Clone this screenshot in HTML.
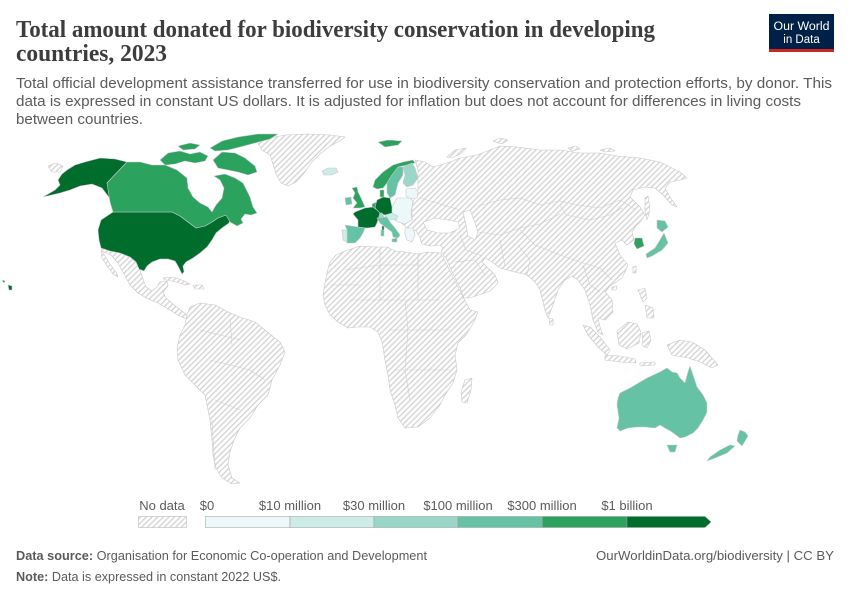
<!DOCTYPE html>
<html><head><meta charset="utf-8"><style>
html,body{margin:0;padding:0;background:#fff;}
svg{display:block;}
</style></head><body>
<svg width="850" height="600" viewBox="0 0 850 600" xmlns="http://www.w3.org/2000/svg">
<defs>
<pattern id="h" width="4" height="4" patternUnits="userSpaceOnUse" patternTransform="rotate(45)">
<rect width="4" height="4" fill="#fff"/>
<line x1="1" y1="0" x2="1" y2="4" stroke="#d2d2d2" stroke-width="1.3"/>
</pattern>
</defs>
<rect width="850" height="600" fill="#fff"/>

<!-- Title -->
<g font-family="'Liberation Serif', serif" fill="#3d3d3d" font-size="24.5" font-weight="bold">
<text x="16" y="37" textLength="639" lengthAdjust="spacingAndGlyphs">Total amount donated for biodiversity conservation in developing</text>
<text x="16" y="61" textLength="151" lengthAdjust="spacingAndGlyphs">countries, 2023</text>
</g>
<g font-family="'Liberation Sans', sans-serif" fill="#5b5b5b" font-size="14.5">
<text x="16" y="88" textLength="816" lengthAdjust="spacingAndGlyphs">Total official development assistance transferred for use in biodiversity conservation and protection efforts, by donor. This</text>
<text x="16" y="106" textLength="785" lengthAdjust="spacingAndGlyphs">data is expressed in constant US dollars. It is adjusted for inflation but does not account for differences in living costs</text>
<text x="16" y="124" textLength="127" lengthAdjust="spacingAndGlyphs">between countries.</text>
</g>

<!-- Logo -->
<rect x="769" y="14" width="65" height="38" fill="#002147"/>
<rect x="769" y="49" width="65" height="3" fill="#ce261e"/>
<g font-family="'Liberation Sans', sans-serif" fill="#fff" font-size="11.5" text-anchor="middle">
<text x="801.5" y="30" textLength="56" lengthAdjust="spacingAndGlyphs">Our World</text>
<text x="801.5" y="43">in Data</text>
</g>

<!-- MAP -->
<g stroke="#c8c8c8" stroke-width="0.6" stroke-linejoin="round">
<!-- hatched land -->
<g fill="url(#h)">
<path d="M48,166 L56,163 L63,166 L60,172 L52,172 Z"/>
<path d="M257,142 L270,138 L285,135 L307,134 L330,135 L345,137 L340,141 L330,146 L320,154 L312,162 L305,172 L296,182 L288,186 L281,183 L276,174 L273,164 L270,155 L262,150 Z"/>
<path d="M101,248 L120,253 L130,257 L136,262 L140,270 L143,279 L146,287 L152,291 L157,287 L160,282 L167,281 L168,286 L163,292 L166,298 L174,305 L182,311 L188,316 L186,319 L178,315 L168,309 L158,303 L148,299 L138,293 L130,285 L124,274 L118,263 L111,255 L104,252 Z"/>
<path d="M101,250 L105,256 L110,264 L116,272 L118,277 L113,274 L107,266 L102,258 Z"/>
<path d="M163,278 L172,277 L182,280 L190,284 L186,285 L176,282 L166,280 Z"/>
<path d="M193,285 L202,285 L204,289 L195,289 Z"/>
<path d="M187,315 L190,307 L200,303 L215,305 L228,312 L240,317 L255,322 L265,330 L280,342 L285,352 L280,365 L272,380 L268,395 L258,405 L250,418 L240,428 L234,440 L230,452 L228,465 L232,478 L240,483 L232,484 L222,478 L216,468 L213,455 L212,440 L210,420 L207,405 L205,395 L195,385 L185,375 L178,360 L177,348 L180,335 L185,325 Z"/>
<path d="M327,273 L330,262 L336,255 L345,251 L360,246 L375,247 L387,247 L395,251 L405,252 L418,254 L428,252 L440,253 L443,257 L450,271 L457,285 L463,297 L470,310 L478,312 L474,322 L466,335 L458,343 L455,355 L457,370 L453,383 L445,395 L440,405 L430,418 L418,427 L405,428 L398,418 L395,405 L390,390 L388,375 L385,360 L382,342 L378,332 L370,327 L358,327 L348,328 L338,322 L330,315 L325,305 L323,295 L325,283 Z"/>
<path d="M465,380 L472,378 L471,390 L467,403 L462,402 L461,392 Z"/>
<path d="M415,160 L425,162 L433,167 L447,163 L460,158 L477,155 L490,150 L500,146 L517,147 L540,150 L560,150 L580,153 L600,153 L617,156 L640,158 L660,162 L680,172 L687,178 L680,180 L670,182 L665,188 L670,197 L677,207 L672,205 L663,195 L655,188 L645,187 L633,190 L630,197 L640,207 L645,215 L640,222 L636,226 L632,232 L634,240 L627,245 L622,240 L615,243 L620,255 L628,265 L622,278 L610,286 L605,292 L612,300 L613,312 L605,320 L598,318 L600,327 L603,335 L598,332 L593,320 L590,305 L585,290 L578,280 L572,276 L565,280 L558,290 L553,305 L548,318 L545,310 L540,290 L535,282 L527,275 L515,272 L500,268 L492,262 L485,258 L482,262 L488,268 L495,275 L498,283 L490,291 L470,298 L464,298 L460,288 L452,272 L446,258 L441,252 L443,248 L440,245 L430,246 L422,244 L420,238 L416,231 L410,229 L405,226 L400,222 L412,220 L412,205 L418,190 L418,170 Z"/>
<path d="M447,157 L455,150 L466,148 L462,153 L452,158 Z"/>
<path d="M493,141 L500,138 L508,140 L502,144 Z"/>
<path d="M568,148 L576,146 L580,149 L572,151 Z"/>
<path d="M600,150 L610,148 L615,151 L605,152 Z"/>
<path d="M645,198 L648,196 L650,210 L647,220 L645,212 Z"/>
<path d="M633,267 L636,266 L636,273 L633,273 Z"/>
<path d="M612,287 L617,286 L616,290 L612,290 Z"/>
<path d="M549,318 L553,319 L553,325 L550,325 Z"/>
<path d="M583,325 L590,327 L600,337 L610,350 L607,355 L598,347 L588,335 Z"/>
<path d="M605,355 L620,356 L635,359 L636,363 L620,362 L605,360 Z"/>
<path d="M617,331 L628,322 L637,324 L641,332 L639,343 L627,349 L619,345 Z"/>
<path d="M642,333 L649,331 L651,340 L647,348 L643,346 Z"/>
<path d="M638,290 L645,288 L647,298 L643,302 Z"/>
<path d="M645,305 L653,308 L654,318 L647,318 Z"/>
<path d="M667,345 L680,340 L692,342 L705,350 L718,365 L712,368 L700,362 L688,358 L672,355 Z"/>
<path d="M640,363 L655,362 L655,365 L640,366 Z"/>
</g>

<!-- internal borders in no-data regions -->
<g fill="none" stroke="#cfcfcf" stroke-width="0.6">
<path d="M420,198 L440,204 L460,210"/>
<path d="M478,206 L500,200 L520,198 L540,205 L560,201 L578,205 L600,208 L620,200 L636,210"/>
<path d="M560,205 L566,215 L590,220 L610,215 L622,208"/>
<path d="M478,232 L500,235 L520,228 L540,224 L560,214"/>
<path d="M520,230 L535,245 L560,255 L580,262 L600,268 L612,280"/>
<path d="M518,245 L530,260 L527,275"/>
<path d="M500,240 L505,265"/>
<path d="M460,235 L466,250 L482,256"/>
<path d="M455,262 L475,260 L485,275"/>
<path d="M583,265 L590,285 L600,292"/>
<path d="M345,270 L380,265 L420,265"/>
<path d="M380,250 L380,300"/>
<path d="M418,254 L418,300"/>
<path d="M350,300 L440,300"/>
<path d="M390,330 L450,330"/>
<path d="M395,370 L450,370"/>
<path d="M330,285 L360,285"/>
<path d="M405,300 L408,330 L405,370 L410,400"/>
<path d="M200,330 L240,340"/>
<path d="M210,360 L250,370 L265,380"/>
<path d="M215,400 L240,410"/>
<path d="M212,420 L215,470"/>
<path d="M230,318 L232,345"/>
</g>

<!-- North America colored -->
<path fill="#006d2c" d="M43,197 L55,190 L60,185 L58,180 L62,174 L67,170 L75,165 L85,162 L100,158 L115,159 L127,162 L107,183 L110,190 L112,201 L108,196 L102,188 L92,184 L80,186 L70,190 L60,193 Z"/>
<path fill="#006d2c" d="M113,212 L172,212 L180,216 L188,222 L196,228 L205,226 L212,222 L218,218 L226,215 L231,217 L229,223 L222,228 L216,233 L212,240 L207,247 L200,253 L193,258 L186,262 L183,266 L184,272 L182,274 L178,266 L175,261 L168,259 L160,259 L152,262 L147,266 L144,271 L139,269 L136,262 L130,257 L120,253 L110,251 L101,248 L99,240 L98,230 L101,220 Z"/>
<path fill="#006d2c" d="M8,285 L12,286 L12,290 L9,290 Z"/>
<path fill="#006d2c" d="M2,280 L5,281 L4,283 Z"/>
<path fill="#2ca25f" d="M127,162 L140,162 L152,165 L165,165 L177,170 L187,178 L188,188 L193,197 L200,203 L208,207 L212,212 L216,205 L222,198 L224,188 L220,180 L214,176 L225,174 L235,178 L243,183 L250,197 L253,207 L257,213 L251,215 L245,214 L241,219 L243,223 L237,226 L230,222 L226,215 L218,218 L212,222 L205,226 L196,228 L188,222 L180,216 L172,212 L113,212 L110,202 L107,183 Z"/>
<path fill="#2ca25f" d="M213,160 L222,152 L235,153 L245,158 L255,166 L257,172 L248,175 L238,172 L228,170 L218,168 Z"/>
<path fill="#2ca25f" d="M210,148 L222,141 L238,137 L258,134 L278,134 L270,139 L255,143 L240,147 L228,150 L215,151 Z"/>
<path fill="#2ca25f" d="M160,160 L168,153 L180,151 L190,154 L200,152 L208,156 L205,161 L195,163 L185,161 L175,164 L165,165 Z"/>
<path fill="#2ca25f" d="M178,146 L190,143 L200,145 L195,149 L183,150 Z"/>

<!-- Europe colored -->
<path fill="#2ca25f" d="M378,142 L388,140 L402,141 L398,145 L385,147 Z"/>
<path fill="#ccece6" d="M322,171 L328,168 L336,168 L338,172 L332,175 L324,175 Z"/>
<path fill="#2ca25f" d="M373,187 L375,180 L383,172 L393,165 L403,162 L413,160 L415,163 L407,165 L398,167 L392,175 L387,183 L383,188 L377,189 Z"/>
<path fill="#66c2a4" d="M387,183 L392,175 L398,167 L403,167 L403,175 L398,183 L395,195 L390,198 L387,193 Z"/>
<path fill="#99d8c9" d="M403,167 L407,165 L412,163 L415,168 L418,178 L413,185 L407,187 L403,183 L405,175 Z"/>
<path fill="#edf8fb" d="M406,189 L415,188 L418,192 L417,198 L410,199 L406,196 Z"/>
<path fill="#2ca25f" d="M380,190 L384,190 L384,197 L380,197 Z"/>
<path fill="#2ca25f" d="M352,188 L357,187 L358,192 L362,200 L365,207 L360,208 L353,208 L357,203 L353,198 L355,193 Z"/>
<path fill="#66c2a4" d="M345,198 L351,197 L352,204 L346,205 Z"/>
<path fill="#edf8fb" d="M392,207 L397,198 L410,198 L413,201 L411,212 L412,220 L405,224 L398,222 L392,218 L390,213 Z"/>
<path fill="#ccece6" d="M385,215 L392,213 L398,216 L396,220 L386,219 Z"/>
<path fill="#2ca25f" d="M372,204 L377,202 L378,210 L373,210 Z"/>
<path fill="#006d2c" d="M377,200 L383,197 L390,198 L392,207 L392,213 L385,215 L378,213 L375,207 Z"/>
<path fill="#99d8c9" d="M375,213 L382,213 L384,217 L377,218 Z"/>
<path fill="#006d2c" d="M355,212 L365,208 L373,207 L377,210 L380,213 L377,223 L375,227 L367,228 L358,227 L358,220 L353,214 Z"/>
<path fill="#006d2c" d="M382,226 L384,226 L384,231 L382,231 Z"/>
<path fill="#66c2a4" d="M377,218 L387,217 L390,222 L395,228 L400,235 L398,238 L393,237 L392,232 L385,227 L380,223 Z"/>
<path fill="#66c2a4" d="M392,239 L397,238 L397,242 L392,242 Z"/>
<path fill="#66c2a4" d="M381,230 L384,230 L384,236 L381,236 Z"/>
<path fill="#66c2a4" d="M345,225 L358,227 L365,228 L363,233 L360,238 L355,243 L347,243 L347,230 Z"/>
<path fill="#ccece6" d="M342,230 L347,230 L347,242 L343,240 Z"/>
<path fill="#edf8fb" d="M405,228 L413,228 L415,235 L412,242 L407,240 L405,234 Z"/>

<!-- Seas overlays -->
<path fill="#fff" d="M423,222 L435,218 L448,220 L458,222 L460,228 L450,233 L438,233 L427,230 Z"/>
<path fill="#fff" d="M463,212 L470,210 L474,220 L478,232 L475,240 L468,236 L466,225 Z"/>

<!-- Asia colored -->
<path fill="#66c2a4" d="M657,220 L665,221 L668,227 L662,232 L657,228 Z"/>
<path fill="#66c2a4" d="M664,233 L668,243 L662,250 L652,256 L647,258 L646,254 L655,248 L660,240 Z"/>
<path fill="#2ca25f" d="M635,238 L642,238 L644,246 L637,249 L634,244 Z"/>

<!-- Oceania colored -->
<path fill="#66c2a4" d="M620,393 L630,388 L647,378 L660,372 L667,368 L672,372 L677,373 L680,378 L685,383 L688,372 L690,366 L693,375 L697,387 L703,395 L707,403 L707,412 L703,420 L698,428 L693,433 L685,437 L680,438 L672,432 L665,428 L660,425 L655,428 L645,427 L637,427 L628,428 L620,431 L617,428 L619,418 L617,405 L618,398 Z"/>
<path fill="#66c2a4" d="M667,445 L677,445 L675,452 L670,452 Z"/>
<path fill="#66c2a4" d="M740,430 L745,432 L748,436 L742,446 L737,441 L738,435 Z"/>
<path fill="#66c2a4" d="M735,446 L727,453 L715,458 L707,461 L710,457 L720,450 L730,445 Z"/>
</g>

<!-- Legend -->
<g font-family="'Liberation Sans', sans-serif" fill="#5b5b5b" font-size="13" text-anchor="middle">
<text x="162" y="510">No data</text>
<text x="207" y="510">$0</text>
<text x="290" y="510">$10 million</text>
<text x="374" y="510">$30 million</text>
<text x="458" y="510">$100 million</text>
<text x="542" y="510">$300 million</text>
<text x="627" y="510">$1 billion</text>
</g>
<rect x="138.5" y="516.5" width="48" height="11" fill="url(#h)" stroke="#bbb" stroke-width="0.6"/>
<g stroke="#999" stroke-width="0.5">
<rect x="205.5" y="516.5" width="84.5" height="11" fill="#edf8fb"/>
<rect x="290" y="516.5" width="84" height="11" fill="#ccece6"/>
<rect x="374" y="516.5" width="84" height="11" fill="#99d8c9"/>
<rect x="458" y="516.5" width="84.5" height="11" fill="#66c2a4"/>
<rect x="542.5" y="516.5" width="84.5" height="11" fill="#2ca25f"/>
</g>
<path d="M627,516.5 L705,516.5 L711,522 L705,527.5 L627,527.5 Z" fill="#006d2c" stroke="#999" stroke-width="0.5"/>

<!-- Footer -->
<g font-family="'Liberation Sans', sans-serif" fill="#5b5b5b" font-size="13">
<text x="16" y="560" textLength="411" lengthAdjust="spacingAndGlyphs"><tspan font-weight="bold">Data source:</tspan> Organisation for Economic Co-operation and Development</text>
<text x="16" y="581" textLength="265" lengthAdjust="spacingAndGlyphs"><tspan font-weight="bold">Note:</tspan> Data is expressed in constant 2022 US$.</text>
<text x="834" y="560" text-anchor="end" textLength="238" lengthAdjust="spacingAndGlyphs">OurWorldinData.org/biodiversity | CC BY</text>
</g>
</svg>
</body></html>
